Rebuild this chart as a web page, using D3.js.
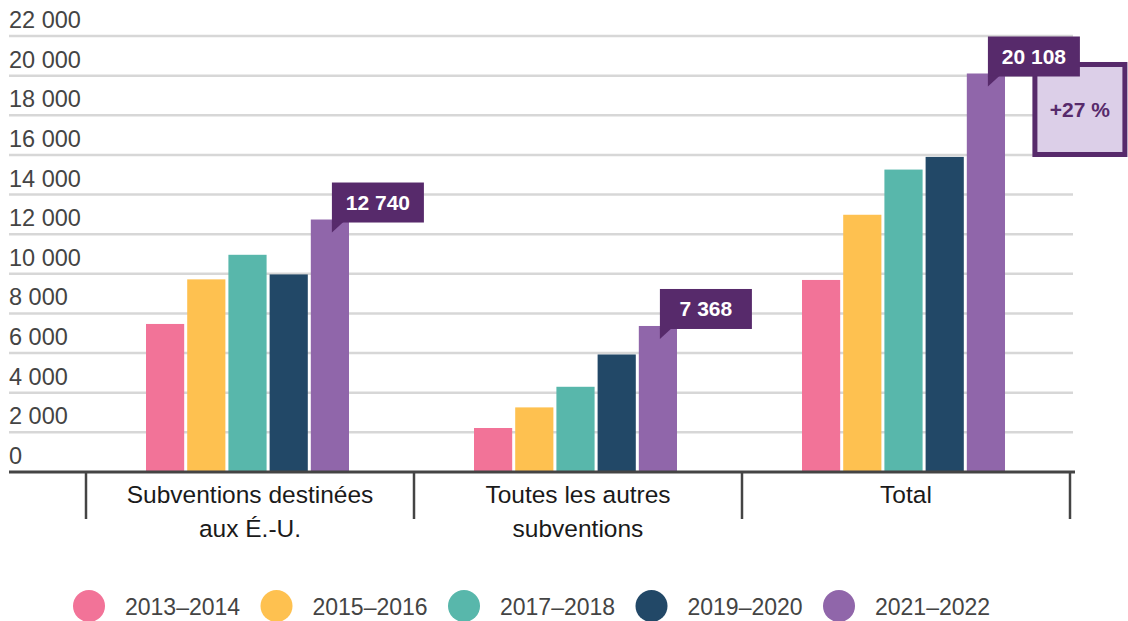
<!DOCTYPE html>
<html>
<head>
  <meta charset="UTF-8">
  <title>Subventions</title>
  <script src="https://cdn.jsdelivr.net/npm/d3@7"></script>
  <style>
    body { margin: 0; background: #fff; }
    svg { display: block; font-family: "Liberation Sans", Arial, Helvetica, sans-serif; }
    .tick-label { fill: #444; font-size: 23.5px; }
    .cat-label { fill: #1a1a1a; font-size: 24.5px; }
    .legend-label { fill: #444; font-size: 23px; }
    .callout text { fill: #fff; font-size: 21px; font-weight: bold; }
  </style>
</head>
<body>
<svg id="chart"></svg>
<script>
// data
var categories = [["Subventions destinées", "aux É.-U."], ["Toutes les autres", "subventions"], ["Total"]];
var seriesNames = ["2013–2014", "2015–2016", "2017–2018", "2019–2020", "2021–2022"];
var usGrants    = [7470, 9720, 10960, 9970, 12740];
var otherGrants = [2220, 3260, 4300, 5930, 7368];
var totalGrants = [9690, 12980, 15260, 15900, 20108];
var yTicks = [0, 2000, 4000, 6000, 8000, 10000, 12000, 14000, 16000, 18000, 20000, 22000];
var growthLabel = "+27 %";

var colours = ["#f27398", "#fec150", "#58b7ab", "#224867", "#9066aa"];
var values = [usGrants, otherGrants, totalGrants];

var width = 1128, height = 621;
var svg = d3.select("#chart").attr("width", width).attr("height", height);

var fr = d3.formatLocale({ decimal: ",", thousands: " ", grouping: [3], currency: ["", " $"] });
var fmt = fr.format(",d");

// scales
var y = d3.scaleLinear().domain([0, 22000]).range([472, 36]);
var x0 = d3.scaleBand().domain(d3.range(categories.length)).range([86, 1070]);
var x1 = d3.scaleBand().domain(d3.range(seriesNames.length)).range([0, 203]).paddingInner(3 / 41);

// grid lines + y labels
var grid = svg.append("g");
grid.selectAll("line")
  .data(yTicks.filter(function (d) { return d > 0; }))
  .enter().append("line")
  .attr("x1", 9).attr("x2", 1073)
  .attr("y1", function (d) { return y(d); })
  .attr("y2", function (d) { return y(d); })
  .attr("stroke", "#d7d7d7")
  .attr("stroke-width", 2.5);

grid.selectAll("text")
  .data(yTicks)
  .enter().append("text")
  .attr("class", "tick-label")
  .attr("x", 9)
  .attr("y", function (d) { return y(d) - 8; })
  .text(function (d) { return fmt(d); });

// bars
var groups = svg.selectAll(".group")
  .data(values)
  .enter().append("g")
  .attr("class", "group")
  .attr("transform", function (d, i) {
    return "translate(" + (x0(i) + x0.bandwidth() / 2 - 104) + ",0)";
  });

groups.selectAll("rect")
  .data(function (d) { return d; })
  .enter().append("rect")
  .attr("x", function (d, i) { return x1(i); })
  .attr("width", x1.bandwidth())
  .attr("y", function (d) { return y(d); })
  .attr("height", function (d) { return y(0) - y(d); })
  .attr("fill", function (d, i) { return colours[i]; });

// x axis line + separators
svg.append("line")
  .attr("x1", 9).attr("x2", 1075)
  .attr("y1", y(0)).attr("y2", y(0))
  .attr("stroke", "#444").attr("stroke-width", 3);

var seps = x0.domain().map(function (i) { return x0(i); }).concat([x0(categories.length - 1) + x0.bandwidth()]);
svg.selectAll(".sep")
  .data(seps)
  .enter().append("line")
  .attr("class", "sep")
  .attr("x1", function (d) { return d; }).attr("x2", function (d) { return d; })
  .attr("y1", y(0)).attr("y2", 519)
  .attr("stroke", "#444").attr("stroke-width", 2.5);

// category labels
var cat = svg.selectAll(".cat-label")
  .data(categories)
  .enter().append("text")
  .attr("class", "cat-label")
  .attr("text-anchor", "middle")
  .attr("x", function (d, i) { return x0(i) + x0.bandwidth() / 2; })
  .attr("y", 503);
cat.selectAll("tspan")
  .data(function (d) { return d; })
  .enter().append("tspan")
  .attr("x", function () { return d3.select(this.parentNode).attr("x"); })
  .attr("dy", function (d, i) { return i ? 34 : 0; })
  .text(function (d) { return d; });

// growth box on the total group (drawn under its callout)
var last = seriesNames.length - 1;
var totalX = x0(2) + x0.bandwidth() / 2 - 104 + x1(last) + x1.bandwidth() / 2;
svg.append("rect")
  .attr("x", totalX + 49).attr("y", y(totalGrants[last]) - 9)
  .attr("width", 90).attr("height", 90)
  .attr("fill", "#dccfe8")
  .attr("stroke", "#572a6b").attr("stroke-width", 5);
svg.append("text")
  .attr("x", totalX + 94).attr("y", y(totalGrants[last]) + 44)
  .attr("text-anchor", "middle")
  .attr("fill", "#572a6b")
  .style("font-size", "21px").style("font-weight", "bold")
  .text(growthLabel);

// callouts for the latest year
var callouts = svg.selectAll(".callout")
  .data(values)
  .enter().append("g")
  .attr("class", "callout")
  .attr("transform", function (d, i) {
    var cx = x0(i) + x0.bandwidth() / 2 - 104 + x1(last) + x1.bandwidth() / 2 + 2;
    return "translate(" + cx + "," + (y(d[last]) + 3) + ")";
  });

callouts.append("rect")
  .attr("x", 0).attr("y", -40)
  .attr("width", 92).attr("height", 40)
  .attr("fill", "#572a6b");
callouts.append("path")
  .attr("d", "M0,-1L12,-1L0,10Z")
  .attr("fill", "#572a6b");
callouts.append("text")
  .attr("x", 46).attr("y", -12.5)
  .attr("text-anchor", "middle")
  .text(function (d) { return fmt(d[last]); });

// legend
var legend = svg.selectAll(".legend")
  .data(seriesNames)
  .enter().append("g")
  .attr("class", "legend")
  .attr("transform", function (d, i) { return "translate(" + (89 + i * 187.5) + ",606)"; });
legend.append("circle")
  .attr("r", 16)
  .attr("fill", function (d, i) { return colours[i]; });
legend.append("text")
  .attr("class", "legend-label")
  .attr("x", 36).attr("y", 8.5)
  .text(function (d) { return d; });
</script>
</body>
</html>
